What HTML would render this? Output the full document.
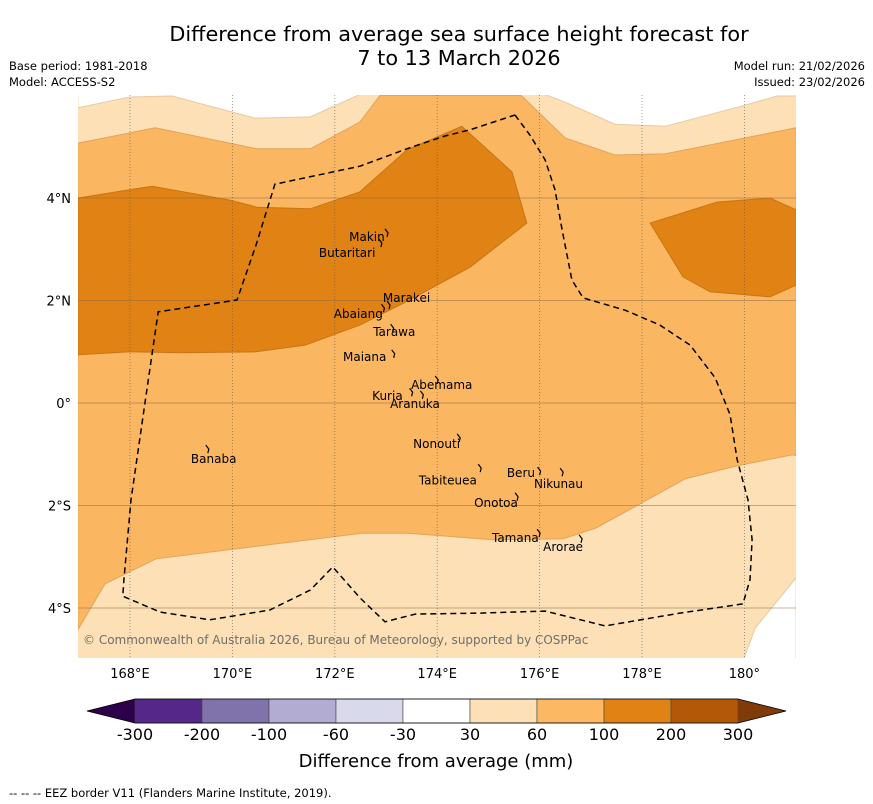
<!DOCTYPE html>
<html><head><meta charset="utf-8">
<style>
html,body{margin:0;padding:0;background:#fff;}
body{width:873px;height:804px;position:relative;overflow:hidden;font-family:"DejaVu Sans","Liberation Sans",sans-serif;}
svg{position:absolute;left:0;top:0;}
</style></head>
<body>
<svg id="chart" width="873" height="804" font-family="DejaVu Sans, Liberation Sans, sans-serif">
<text x="459" y="41" font-size="20.8" text-anchor="middle" fill="#000">Difference from average sea surface height forecast for</text>
<text x="459" y="65" font-size="20.8" text-anchor="middle" fill="#000">7 to 13 March 2026</text>
<text x="9" y="70" font-size="11.5">Base period: 1981-2018</text>
<text x="9" y="86" font-size="11.5">Model: ACCESS-S2</text>
<text x="865" y="70" font-size="11.5" text-anchor="end">Model run: 21/02/2026</text>
<text x="865" y="86" font-size="11.5" text-anchor="end">Issued: 23/02/2026</text>
<defs><clipPath id="mapclip"><rect x="78" y="95" width="718" height="563"/></clipPath></defs>
<g id="map" clip-path="url(#mapclip)"></g>
<g id="overlay"></g>
<text x="83" y="644" font-size="12" fill="#6e6e6e">© Commonwealth of Australia 2026, Bureau of Meteorology, supported by COSPPac</text>
<g id="cbar"></g>
<text x="436" y="767" font-size="18" text-anchor="middle">Difference from average (mm)</text>
<text x="9" y="797" font-size="11.5">--  --  -- EEZ border V11 (Flanders Marine Institute, 2019).</text>
</svg>
<script>
// axis
const lonTicks=[168,170,172,174,176,178,180];
const lonTickLabels=["168°E","170°E","172°E","174°E","176°E","178°E","180°"];
const latTicks=[4,2,0,-2,-4];
const latTickLabels=["4°N","2°N","0°","2°S","4°S"];
// contour regions (lon, lat)
const whiteTopLon=[166.98,166.98,168,168.82,170.44,171.52,172.88,175.64,176.50,177.47,178.45,179.97,180.64,181.01,181.01,166.98];
const whiteTopLat=[6.2,5.76,5.97,5.99,5.56,5.58,6.2,6.2,5.87,5.44,5.40,5.80,5.99,5.99,6.2,6.2];
const mediumLon=[166.98,168.49,170.48,171.52,172.49,172.88,175.64,176.50,177.47,178.45,181.01,181.01,180.94,179.84,178.84,177.92,177.10,176.46,175.09,173.43,172.53,168.51,167.51,166.98];
const mediumLat=[5.07,5.37,4.96,4.96,5.48,6.0,6.0,5.17,4.84,4.86,5.37,-1.03,-1.01,-1.23,-1.48,-1.99,-2.44,-2.65,-2.67,-2.54,-2.54,-3.04,-3.53,-4.43];
const whiteBotLon=[181.01,181.01,179.91,180.21];
const whiteBotLat=[-3.41,-5.2,-5.2,-4.39];
const darkWestLon=[166.98,168.43,169.95,170.48,171.52,172.49,173.41,174.48,175.46,175.75,174.64,173.46,172.49,171.42,170.46,168.98,168,166.98];
const darkWestLat=[4.00,4.23,3.96,3.82,3.79,4.12,4.94,5.40,4.51,3.51,2.65,2.01,1.52,1.13,1.00,0.98,1.00,0.94];
const darkEastLon=[178.16,179.46,180.50,181.01,181.01,180.50,179.33,178.80];
const darkEastLat=[3.51,3.92,4.00,3.77,2.30,2.07,2.17,2.46];
// EEZ border
const eezLon=[175.52,175.81,176.11,176.30,176.44,176.63,176.85,177.67,178.35,178.94,179.43,179.72,179.86,180.07,180.15,180.11,179.97,178.74,177.28,176.11,174.84,173.57,172.98,172.49,171.96,171.52,170.73,169.56,168.59,167.86,167.88,168.02,168.3,168.55,170.09,170.46,170.83,172.49,173.46,174.15,174.64,175.52];
const eezLat=[5.62,5.23,4.74,4.16,3.38,2.40,2.05,1.81,1.52,1.13,0.49,-0.23,-1.11,-1.89,-2.67,-3.45,-3.92,-4.10,-4.35,-4.06,-4.10,-4.12,-4.27,-3.80,-3.20,-3.65,-4.04,-4.23,-4.08,-3.77,-3.45,-1.89,0.06,1.78,2.01,3.08,4.27,4.62,4.98,5.21,5.33,5.62];
// islands
const islandNames=["Makin","Butaritari","Marakei","Abaiang","Tarawa","Maiana","Abemama","Kuria","Aranuka","Banaba","Nonouti","Beru","Tabiteuea","Nikunau","Onotoa","Tamana","Arorae"];
const islandLon=[173.02,172.90,173.06,172.95,173.13,173.15,174.00,173.50,173.71,169.52,174.43,176.00,174.84,176.44,175.56,175.99,176.81];
const islandLat=[3.32,3.12,1.91,1.85,1.46,0.96,0.45,0.21,0.16,-0.90,-0.68,-1.33,-1.27,-1.35,-1.83,-2.54,-2.65];
const labelLon=[172.28,171.69,172.94,171.98,172.75,172.16,173.49,172.73,173.08,169.19,173.53,175.36,173.64,175.89,174.72,175.07,176.07];
const labelLat=[3.24,2.93,2.05,1.74,1.39,0.90,0.35,0.14,-0.02,-1.09,-0.80,-1.37,-1.51,-1.58,-1.95,-2.63,-2.81];
// colorbar
const cbLevels=["-300","-200","-100","-60","-30","30","60","100","200","300"];
const cbColors=["#542788","#8073ac","#b2abd2","#d8daeb","#ffffff","#fee0b6","#fdb863","#e08214","#b35806"];
const cbUnder="#2d004b", cbOver="#7f3b08";

const X=lon=>130+(lon-168)*51.2;
const Y=lat=>403-lat*51.25;
const NS="http://www.w3.org/2000/svg";
const map=document.getElementById('map');
const ov=document.getElementById('overlay');
function mk(tag,attrs,parent){const e=document.createElementNS(NS,tag);for(const k in attrs)e.setAttribute(k,attrs[k]);parent.appendChild(e);return e;}
function pts(lons,lats){return lons.map((l,i)=>X(l).toFixed(1)+','+Y(lats[i]).toFixed(1)).join(' ');}

let bg=mk('rect',{x:78,y:95,width:718,height:563,fill:'#fde0b6'},map);


let p=mk('polygon',{points:pts(whiteTopLon,whiteTopLat),fill:'#ffffff',stroke:'#e8c9a0','stroke-width':1},map);


p=mk('polygon',{points:pts(whiteBotLon,whiteBotLat),fill:'#ffffff',stroke:'#e8c9a0','stroke-width':1},map);


p=mk('polygon',{points:pts(mediumLon,mediumLat),fill:'#fbb661',stroke:'#e2a35a','stroke-width':1},map);


p=mk('polygon',{points:pts(darkWestLon,darkWestLat),fill:'#e08214',stroke:'#c97512','stroke-width':1},map);


p=mk('polygon',{points:pts(darkEastLon,darkEastLat),fill:'#e08214',stroke:'#c97512','stroke-width':1},map);



lonTicks.forEach((l,i)=>{
  let g=mk('line',{x1:X(l),x2:X(l),y1:95,y2:658,stroke:'#555','stroke-width':0.8,'stroke-dasharray':'1,2','stroke-opacity':0.7},map);
  
  
  let t=mk('text',{x:X(l),y:678,'font-size':13,'text-anchor':'middle'},ov);t.textContent=lonTickLabels[i];
  
  
});
latTicks.forEach((l,i)=>{
  let g=mk('line',{x1:78,x2:796,y1:Y(l),y2:Y(l),stroke:'#8a6a40','stroke-width':1,'stroke-opacity':0.5},map);
  
  
  let t=mk('text',{x:71,y:Y(l)+5,'font-size':13,'text-anchor':'end'},ov);t.textContent=latTickLabels[i];
  
  
});

let eez=mk('polyline',{points:pts(eezLon,eezLat),fill:'none',stroke:'#000','stroke-width':1.5,'stroke-dasharray':'6,4'},map);



islandNames.forEach((n,i)=>{
  const x=X(islandLon[i]),y=Y(islandLat[i]);
  let s=mk('path',{d:`M${x-2},${y-4} L${x+1},${y} L${x},${y+4}`,fill:'none',stroke:'#000','stroke-width':1.2},ov);
  
  
  let t=mk('text',{x:X(labelLon[i]),y:Y(labelLat[i])+4,'font-size':12},ov);t.textContent=n;
  
  
});

const cb=document.getElementById('cbar');
const cx0=135,cw=67.0,cy=699,ch=24;
let tri=mk('polygon',{points:`${cx0},${cy} ${cx0},${cy+ch} 87,${cy+ch/2}`,fill:cbUnder},cb);


cbColors.forEach((c,i)=>{
  let r=mk('rect',{x:cx0+i*cw,y:cy,width:cw,height:ch,fill:c,stroke:'#444','stroke-width':0.6},cb);
  
  
});
const cx1=cx0+cbColors.length*cw;
tri=mk('polygon',{points:`${cx1},${cy} ${cx1},${cy+ch} 786,${cy+ch/2}`,fill:cbOver},cb);


mk('polygon',{points:`87,${cy+ch/2} ${cx0},${cy} ${cx1},${cy} 786,${cy+ch/2} ${cx1},${cy+ch} ${cx0},${cy+ch}`,fill:'none',stroke:'#000','stroke-width':0.8},cb);
cbLevels.forEach((v,i)=>{
  let t=mk('text',{x:cx0+i*cw,y:740,'font-size':16,'text-anchor':'middle'},cb);t.textContent=v;
  
  
});
</script>
</body></html>
